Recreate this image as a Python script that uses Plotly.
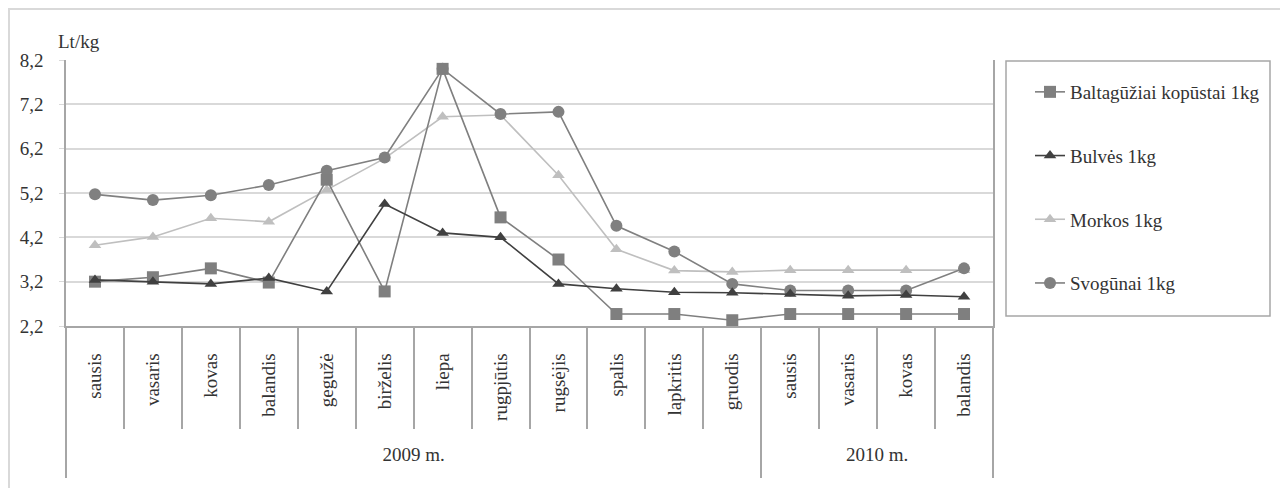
import plotly.graph_objects as go

years = ["2009 m.", "2010 m."]
year_months = [12, 4]
months = ["sausis", "vasaris", "kovas", "balandis", "gegužė", "birželis", "liepa",
          "rugpjūtis", "rugsėjis", "spalis", "lapkritis", "gruodis",
          "sausis", "vasaris", "kovas", "balandis"]

baltaguziai = [3.2, 3.3, 3.5, 3.18, 5.5, 2.98, 8.0, 4.65, 3.7, 2.47, 2.47, 2.33, 2.47, 2.47, 2.47, 2.47]
bulves = [3.24, 3.2, 3.15, 3.28, 2.98, 4.95, 4.3, 4.2, 3.15, 3.04, 2.96, 2.95, 2.92, 2.88, 2.9, 2.86]
morkos = [4.02, 4.21, 4.63, 4.55, 5.27, 5.98, 6.92, 6.96, 5.6, 3.93, 3.45, 3.42, 3.46, 3.46, 3.46, 3.46]
svogunai = [5.17, 5.04, 5.15, 5.38, 5.7, 6.0, 8.0, 6.98, 7.03, 4.46, 3.88, 3.15, 3.0, 3.0, 3.0, 3.5]

y_ticks = [2.2, 3.2, 4.2, 5.2, 6.2, 7.2, 8.2]

FONT = "Liberation Serif"
FS = 19
TXT = "#333333"
n = len(months)
xs = list(range(n))

bounds = [i - 0.5 for i in range(n + 1)]
year_bounds = [-0.5]
year_centers = []
start = 0
for cnt in year_months:
    year_centers.append(start + (cnt - 1) / 2)
    start += cnt
    year_bounds.append(start - 0.5)

series = [
    ("Morkos 1kg", morkos, "#bfbfbf", "triangle-up", 11, 3),
    ("Svogūnai 1kg", svogunai, "#808080", "circle", 12, 4),
    ("Baltagūžiai kopūstai 1kg", baltaguziai, "#7f7f7f", "square", 12, 1),
    ("Bulvės 1kg", bulves, "#404040", "triangle-up", 11, 2),
]

fig = go.Figure()
for name, vals, col, sym, size, rank in series:
    fig.add_trace(go.Scatter(
        x=xs, y=vals, name=name, mode="lines+markers",
        line=dict(color=col, width=1.6),
        marker=dict(color=col, symbol=sym, size=size),
        legendrank=rank, legendgroup=name,
    ))

# invisible carrier so the year axis (x2) is drawn
fig.add_trace(go.Scatter(
    x=year_centers, y=[None] * len(year_centers), xaxis="x2", yaxis="y",
    mode="markers", showlegend=False, hoverinfo="skip",
))

# figure coordinates (page has an 8px body margin)
L, R, T, B = 58, 985, 52, 318
W, H = 1280, 480
PW, PH = R - L, B - T

def px(p):
    return (p - L) / PW

def py(p):
    return (B - p) / PH

shapes = [
    dict(type="rect", xref="paper", yref="paper", x0=px(998), x1=px(1262), y0=py(308), y1=py(53),
         line=dict(color="#a6a6a6", width=1.5), fillcolor="rgba(0,0,0,0)"),
    dict(type="rect", xref="paper", yref="paper", x0=px(0), x1=px(2), y0=py(480), y1=py(0),
         line=dict(width=0), fillcolor="#d9d9d9", layer="below"),
    dict(type="rect", xref="paper", yref="paper", x0=px(0), x1=px(1280), y0=py(2), y1=py(0),
         line=dict(width=0), fillcolor="#d9d9d9", layer="below"),
    dict(type="rect", xref="paper", yref="paper", x0=px(1277), x1=px(1280), y0=py(480), y1=py(0),
         line=dict(width=0), fillcolor="#d9d9d9", layer="below"),
]

xrange = [-0.5, n - 0.5]
AX = "#a6a6a6"

fig.update_layout(
    width=W, height=H,
    margin=dict(l=L, r=W - R, t=T, b=H - B, autoexpand=False),
    paper_bgcolor="white", plot_bgcolor="white",
    separators=",.",
    font=dict(family=FONT, size=FS, color=TXT),
    showlegend=True,
    legend=dict(
        x=px(1022), xanchor="left", y=py(65), yanchor="top",
        traceorder="grouped", tracegroupgap=36,
        font=dict(family=FONT, size=FS, color=TXT),
        bgcolor="rgba(0,0,0,0)", borderwidth=0,
    ),
    shapes=shapes,
    annotations=[dict(text="Lt/kg", xref="paper", yref="paper", x=px(48), y=py(34),
                      xanchor="left", yanchor="middle", showarrow=False,
                      font=dict(family=FONT, size=FS, color=TXT))],
    xaxis=dict(
        range=xrange, tickmode="array", tickvals=xs, ticktext=months,
        tickangle=-90, ticks="", automargin=False,
        showgrid=False, zeroline=False,
        showline=True, linecolor=AX, linewidth=1.5,
        tickfont=dict(family=FONT, size=FS, color=TXT),
        ticklabelstandoff=18,
        minor=dict(tickmode="array", tickvals=bounds, ticks="outside", ticklen=101,
                   tickcolor=AX, tickwidth=1.5, showgrid=False),
    ),
    xaxis2=dict(
        overlaying="x", anchor="y", side="bottom",
        range=xrange, tickmode="array", tickvals=year_centers, ticktext=years,
        ticks="", automargin=False, showgrid=False, zeroline=False, showline=False,
        tickfont=dict(family=FONT, size=FS, color=TXT),
        ticklabelstandoff=115,
        minor=dict(tickmode="array", tickvals=year_bounds, ticks="outside", ticklen=151,
                   tickcolor=AX, tickwidth=1.5, showgrid=False),
    ),
    yaxis=dict(
        range=[2.2, 8.2], tickvals=y_ticks, tickformat=".1f", automargin=False,
        showgrid=True, gridcolor="#d9d9d9", gridwidth=1.5,
        showline=True, linecolor=AX, linewidth=1.5, mirror=True,
        ticks="outside", ticklen=5, tickcolor="#d9d9d9",
        zeroline=False,
        tickfont=dict(family=FONT, size=FS, color=TXT),
        ticklabelstandoff=12,
    ),
)

fig.write_html("out.html")
